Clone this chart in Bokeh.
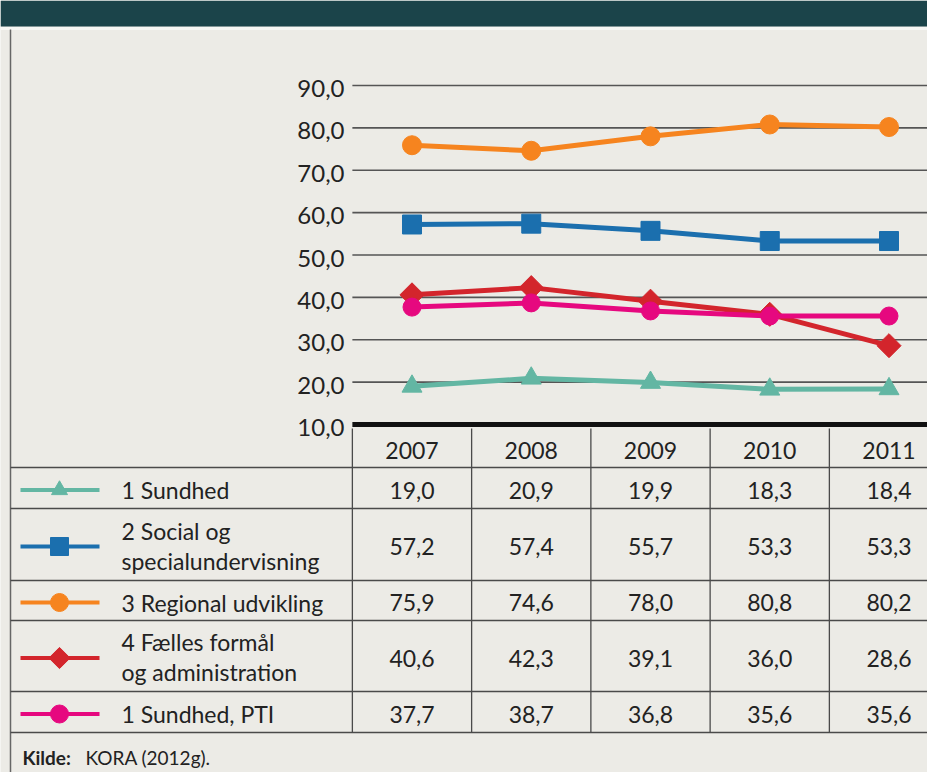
from bokeh.plotting import figure
from bokeh.models import Range1d
from bokeh.core.properties import value
from bokeh.embed import file_html
from bokeh.resources import INLINE
import math

# ---------------- data ----------------
years = [2007, 2008, 2009, 2010, 2011]
year_labels = ["2007", "2008", "2009", "2010", "2011"]
y_ticks = [10, 20, 30, 40, 50, 60, 70, 80, 90]
y_tick_labels = ["10,0", "20,0", "30,0", "40,0", "50,0", "60,0", "70,0", "80,0", "90,0"]

series_labels = [
    ["1 Sundhed"],
    ["2 Social og", "specialundervisning"],
    ["3 Regional udvikling"],
    ["4 Fælles formål", "og administration"],
    ["1 Sundhed, PTI"],
]
sundhed = [19.0, 20.9, 19.9, 18.3, 18.4]
social = [57.2, 57.4, 55.7, 53.3, 53.3]
regional = [75.9, 74.6, 78.0, 80.8, 80.2]
faelles = [40.6, 42.3, 39.1, 36.0, 28.6]
pti = [37.7, 38.7, 36.8, 35.6, 35.6]
series_values = [sundhed, social, regional, faelles, pti]

source_bold = "Kilde:"
source_text = "KORA (2012g)."

# ---------------- style ----------------
colors = ["#63b6a3", "#1b6fae", "#f6841f", "#d3252c", "#e6087f"]
markers = ["triangle", "square", "circle", "square", "circle"]
marker_angles = [0, 0, 0, math.pi / 4, 0]
marker_sizes = [20, 19, 19, 17, 18]
legend_marker_sizes = [16, 18, 18, 15, 18]
BG = "#ecebe6"
HEADER = "#1b444a"
GRID = "#555555"
TXT = "#222222"
FONT = value("Lato")
FS = "23px"

# layout (picture pixels)
W, H = 927, 772
X0, X1 = 0, W
Y0, Y1 = 0, H
col_w = 119.25
x_first, x_last = 411.5, 888.5      # pixel centres of first/last year
y10_px, y90_px = 424.0, 85.0        # pixel rows of value 10 and 90
unit = (y10_px - y90_px) / 80.0
row_edges = [467, 508, 580, 620, 691, 732]
header_top = 428
left_edge = 10
label_x = 121
legend_x0, legend_x1, legend_xm = 20, 99, 59

p = figure(width=W, height=H, output_backend="svg", toolbar_location=None,
           x_range=Range1d(X0, X1), y_range=Range1d(Y1, Y0),
           x_axis_type=None, y_axis_type=None, min_border=0,
           background_fill_color=BG, border_fill_color=BG,
           outline_line_color=None)
p.extra_x_ranges = {"yr": Range1d(years[0] - (x_first - X0) / col_w,
                                  years[-1] + (X1 - x_last) / col_w)}
p.extra_y_ranges = {"val": Range1d(10 - (Y1 - y10_px) / unit,
                                   10 + (y10_px - Y0) / unit)}

# header band
p.quad(left=X0, right=X1, top=Y0, bottom=26, color=HEADER, line_color=None)
p.segment(x0=X0, x1=X1, y0=28, y1=28, line_color="#f7f7f4", line_width=3)
# left frame border
p.segment(x0=left_edge, x1=left_edge, y0=29, y1=Y1, line_color="#666666", line_width=1.5)

# grid lines (values 20..90) across plot area
grid_start = years[0] - 0.5
grid_end = p.extra_x_ranges["yr"].end
p.segment(x0=grid_start, x1=grid_end, y0=y_ticks[1:], y1=y_ticks[1:],
          x_range_name="yr", y_range_name="val", line_color=GRID, line_width=1.6)
# thick baseline at 10
p.segment(x0=grid_start, x1=grid_end, y0=y_ticks[0], y1=y_ticks[0],
          x_range_name="yr", y_range_name="val", line_color="#111111", line_width=5)

# y tick labels
p.text(x=344, y=y_ticks, text=y_tick_labels, y_range_name="val",
       text_align="right", text_baseline="middle", y_offset=3,
       text_font=FONT, text_font_size="24px", text_color=TXT)

# series lines
for vals, c, m, a, s in zip(series_values, colors, markers, marker_angles, marker_sizes):
    p.line(x=years, y=vals, x_range_name="yr", y_range_name="val",
           line_color=c, line_width=5)
    p.scatter(x=years, y=vals, x_range_name="yr", y_range_name="val",
              marker=m, angle=a, size=s, fill_color=c, line_color=c)

# ---------------- table ----------------
p.segment(x0=left_edge, x1=X1, y0=row_edges, y1=row_edges,
          line_color="#4a4a4a", line_width=1.3)
col_bounds = [y - 0.5 for y in years]
p.segment(x0=col_bounds, x1=col_bounds, y0=header_top, y1=row_edges[-1],
          x_range_name="yr", line_color="#4a4a4a", line_width=1.3)

p.text(x=years, y=(header_top + row_edges[0]) / 2, text=year_labels, x_range_name="yr",
       text_align="center", text_baseline="middle", y_offset=2,
       text_font=FONT, text_font_size=FS, text_color=TXT)

for i, (lines, vals, c, m, a, ls) in enumerate(zip(series_labels, series_values, colors,
                                                  markers, marker_angles, legend_marker_sizes)):
    yc = (row_edges[i] + row_edges[i + 1]) / 2
    p.text(x=years, y=yc, text=[f"{v:.1f}".replace(".", ",") for v in vals],
           x_range_name="yr", text_align="center", text_baseline="middle", y_offset=2,
           text_font=FONT, text_font_size=FS, text_color=TXT)
    if len(lines) == 1:
        ys = [yc + 2]
    else:
        ys = [yc - 14, yc + 16]
    p.text(x=label_x, y=ys, text=lines, text_align="left", text_baseline="middle",
           text_font=FONT, text_font_size=FS, text_color=TXT)
    p.segment(x0=legend_x0, x1=legend_x1, y0=yc + 2, y1=yc + 2, line_color=c, line_width=4)
    p.scatter(x=legend_xm, y=yc + 2, marker=m, angle=a, size=ls, fill_color=c, line_color=c)

# source
p.text(x=22, y=757, text=[source_bold], text_align="left", text_baseline="middle",
       text_font=FONT, text_font_size="19px", text_font_style="bold", text_color=TXT)
p.text(x=85, y=757, text=[source_text], text_align="left", text_baseline="middle",
       text_font=FONT, text_font_size="19px", text_color=TXT)

open("out.html", "w").write(file_html(p, INLINE))
